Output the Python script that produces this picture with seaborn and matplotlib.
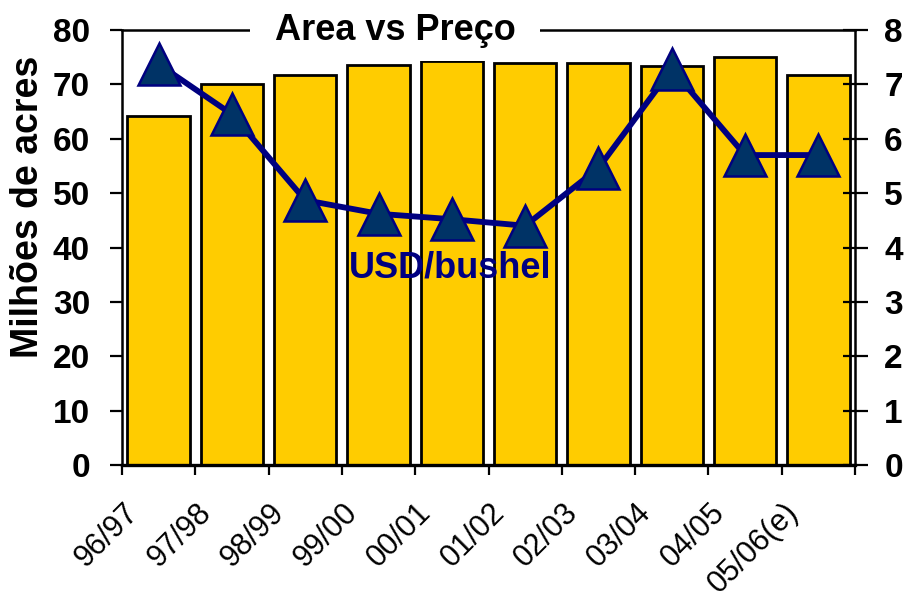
import matplotlib
matplotlib.use("Agg")
import matplotlib.pyplot as plt
import matplotlib.transforms as mtransforms
from matplotlib.patches import Rectangle
import seaborn as sns
import pandas as pd
import numpy as np

categories = ["96/97", "97/98", "98/99", "99/00", "00/01", "01/02", "02/03", "03/04", "04/05", "05/06(e)"]
area = [64.2, 70.1, 71.8, 73.5, 74.3, 74.0, 74.0, 73.4, 75.1, 71.8]
price = [7.37, 6.45, 4.87, 4.62, 4.52, 4.40, 5.46, 7.28, 5.70, 5.70]
left_ticks = [0, 10, 20, 30, 40, 50, 60, 70, 80]
right_ticks = [0, 1, 2, 3, 4, 5, 6, 7, 8]

df = pd.DataFrame({"cat": categories, "area": area, "price": price})

sns.set_theme(style="white")
plt.rcParams["font.family"] = ["Liberation Sans", "DejaVu Sans"]
plt.rcParams["text.color"] = "black"
plt.rcParams["axes.labelcolor"] = "black"
plt.rcParams["xtick.color"] = "black"
plt.rcParams["ytick.color"] = "black"

fig = plt.figure(figsize=(9.14, 5.91), dpi=100)
ax = fig.add_axes([122/914, 1-465/591, (855-122)/914, (465-30)/591])

sns.barplot(data=df, x="cat", y="area", ax=ax, color="#FFCC00", width=0.85,
            edgecolor="black", linewidth=2.0, saturation=1)
for p in ax.patches:
    p.set_facecolor("#FFCC00")

ax.set_xlim(-0.5, 9.5)
ax.set_ylim(0, 80)
ax.set_yticks(left_ticks)
ax.set_yticklabels([str(t) for t in left_ticks], fontsize=24, fontweight="bold", color="black")
ax.set_ylabel("Milhões de acres", fontsize=27, fontweight="bold", color="black")
ax.yaxis.set_label_coords((46-122)/733, (465-207)/435)
ax.set_xlabel("")

ax.set_xticks(np.arange(-0.5, 10, 1.0))
ax.set_xticklabels([])
ax.set_xticks(np.arange(10), minor=True)
ax.set_xticklabels(categories, minor=True, rotation=45, ha="right", va="center",
                   rotation_mode="anchor", fontsize=22, color="black")
ax.tick_params(axis="x", which="major", direction="out", length=7.5, width=1.6, color="black", bottom=True)
ax.tick_params(axis="x", which="minor", length=0, pad=31, bottom=True)
offset = mtransforms.ScaledTranslation(-25/100, 0, fig.dpi_scale_trans)
for lab in ax.get_xticklabels(minor=True):
    lab.set_transform(lab.get_transform() + offset)

ax.tick_params(axis="y", direction="out", length=9, width=1.6, color="black", pad=14, left=True)
for s in ["left", "bottom"]:
    ax.spines[s].set_color("black")
ax.spines["left"].set_linewidth(1.8)
ax.spines["bottom"].set_linewidth(2.4)
ax.spines["top"].set_visible(False)
ax.spines["right"].set_visible(False)

ax2 = ax.twinx()
sns.lineplot(data=df, x="cat", y="price", ax=ax2, color="#000080", linewidth=4.2,
             marker="^", markersize=30, markerfacecolor="#003366",
             markeredgecolor="#000080", markeredgewidth=1.8, sort=False)
ax2.set_ylim(0, 8)
ax2.set_xlim(-0.5, 9.5)
ax2.set_yticks(right_ticks)
ax2.set_yticklabels([str(t) for t in right_ticks], fontsize=24, fontweight="bold", color="black")
ax2.set_ylabel("")
ax2.tick_params(axis="y", direction="inout", length=18, width=1.6, color="black", pad=12, right=True)
for s in ["top", "right"]:
    ax2.spines[s].set_color("black")
    ax2.spines[s].set_linewidth(1.8)
ax2.spines["left"].set_visible(False)
ax2.spines["bottom"].set_visible(False)

# white title box (interrupts the top frame line)
x0, x1 = (250-122)/733, (540-122)/733
y0, y1 = (465-61)/435, (465-12)/435
ax2.add_patch(Rectangle((x0, y0), x1-x0, y1-y0, transform=ax2.transAxes, facecolor="white",
                        edgecolor="none", zorder=9, clip_on=False))
ax2.text((395-122)/733, 1.0, "Area vs Preço", transform=ax2.transAxes, ha="center", va="center",
         fontsize=26, fontweight="bold", color="black", zorder=10, clip_on=False)
ax2.text((450-122)/733, (465-268)/435, "USD/bushel", transform=ax2.transAxes, ha="center", va="center",
         fontsize=26, fontweight="bold", color="#000080", zorder=5)

fig.savefig("out.png", dpi=100)
